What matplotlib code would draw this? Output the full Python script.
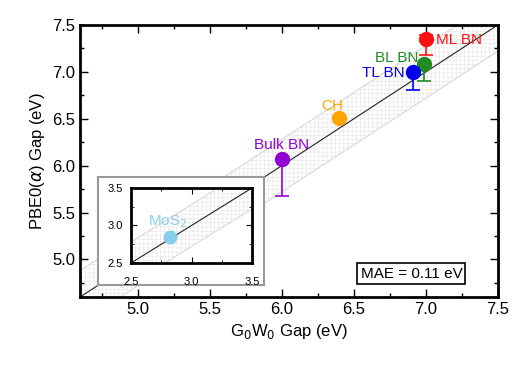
import numpy as np
import matplotlib
matplotlib.use("Agg")
import matplotlib.pyplot as plt
from matplotlib.ticker import MultipleLocator

plt.rcParams['font.family'] = ['Liberation Sans', 'DejaVu Sans']
plt.rcParams['hatch.linewidth'] = 0.5

# data
names = ["ML BN", "BL BN", "TL BN", "CH", "Bulk BN"]
gw_gap = [7.00, 6.99, 6.91, 6.40, 6.00]
pbe0_gap = [7.35, 7.08, 7.00, 6.51, 6.07]
err_low = [0.17, 0.18, 0.19, 0.0, 0.39]
err_high = [0.04, 0.0, 0.0, 0.0, 0.0]
colors = ["#ff1010", "#228b22", "#0000ee", "#ffa500", "#9400d3"]

mos2_gw = 2.82
mos2_pbe0 = 2.84
band = 0.28
mae_text = "MAE = 0.11 eV"


def draw_band(a, xs):
    # light cross-hatched band around y = x
    a.fill_between(xs, xs - band, xs + band, facecolor='white', edgecolor='#e9e9e9',
                   hatch='++++', linewidth=0, zorder=1)
    a.plot(xs, xs - band, color='#d4d4d4', lw=0.7, zorder=1.5)
    a.plot(xs, xs + band, color='#d4d4d4', lw=0.7, zorder=1.5)
    a.plot(xs, xs, color='#222222', lw=0.8, zorder=2)


fig = plt.figure(figsize=(5.24, 3.68), dpi=100)
ax = fig.add_axes([0.153, 0.193, 0.797, 0.739])

draw_band(ax, np.array([4.0, 8.0]))

for i, name in enumerate(names):
    has_err = err_low[i] > 0 or err_high[i] > 0
    if has_err:
        ax.errorbar(gw_gap[i], pbe0_gap[i], yerr=[[err_low[i]], [err_high[i]]],
                    fmt='none', ecolor=colors[i], elinewidth=1.2, capsize=5, capthick=1.2, zorder=3)
    ax.plot(gw_gap[i], pbe0_gap[i], 'o', color=colors[i], ms=10, zorder=4)

ax.text(7.07, 7.34, "ML BN", color=colors[0], fontsize=11, ha='left', va='center')
ax.text(6.95, 7.15, "BL BN", color=colors[1], fontsize=11, ha='right', va='center')
ax.text(6.85, 6.99, "TL BN", color=colors[2], fontsize=11, ha='right', va='center')
ax.text(6.35, 6.64, "CH", color=colors[3], fontsize=11, ha='center', va='center')
ax.text(6.0, 6.22, "Bulk BN", color=colors[4], fontsize=11, ha='center', va='center')

ax.text(6.90, 4.85, mae_text, fontsize=11, ha='center', va='center',
        bbox=dict(boxstyle='square,pad=0.2', facecolor='white', edgecolor='black', lw=1.2))

ax.set_xlim(4.6, 7.5)
ax.set_ylim(4.6, 7.5)
ax.xaxis.set_major_locator(MultipleLocator(0.5))
ax.yaxis.set_major_locator(MultipleLocator(0.5))
ax.xaxis.set_minor_locator(MultipleLocator(0.25))
ax.yaxis.set_minor_locator(MultipleLocator(0.25))
ax.tick_params(which='both', direction='in', top=True, right=True, labelsize=12)
ax.tick_params(which='major', length=6, width=1)
ax.tick_params(which='minor', length=3, width=1)
for s in ax.spines.values():
    s.set_linewidth(2)
ax.set_xlabel("G$_0$W$_0$ Gap (eV)", fontsize=12)
ax.set_ylabel("PBE0($\\alpha$) Gap (eV)", fontsize=12)

# grey frame behind the inset
frame = fig.add_axes([0.187, 0.2255, 0.317, 0.2935])
frame.set_xticks([])
frame.set_yticks([])
for s in frame.spines.values():
    s.set_color('#999999')
    s.set_linewidth(1.5)

ins = fig.add_axes([0.25, 0.2853, 0.231, 0.204])
draw_band(ins, np.array([2.0, 4.0]))
ins.plot(mos2_gw, mos2_pbe0, 'o', color='#87ceeb', ms=9, zorder=4)
ins.text(2.8, 3.05, "MoS$_2$", color='#87ceeb', fontsize=11, ha='center', va='center')
ins.set_xlim(2.5, 3.5)
ins.set_ylim(2.5, 3.5)
ins.xaxis.set_major_locator(MultipleLocator(0.5))
ins.yaxis.set_major_locator(MultipleLocator(0.5))
ins.xaxis.set_minor_locator(MultipleLocator(0.25))
ins.yaxis.set_minor_locator(MultipleLocator(0.25))
ins.tick_params(which='both', direction='in', top=True, right=True, labelsize=8)
ins.tick_params(axis='x', pad=10)
ins.tick_params(axis='y', pad=6)
ins.tick_params(which='major', length=4)
ins.tick_params(which='minor', length=2)
for s in ins.spines.values():
    s.set_linewidth(2)

fig.savefig("out.png", dpi=100)
